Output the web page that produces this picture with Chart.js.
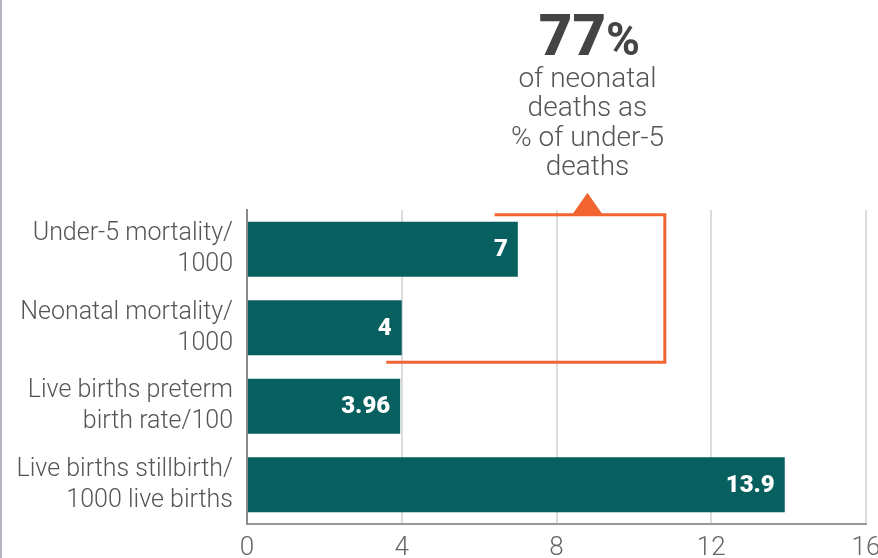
<!DOCTYPE html>
<html>
<head>
<meta charset="utf-8">
<script src="https://cdn.jsdelivr.net/npm/chart.js@4"></script>
<style>
  html, body { margin: 0; padding: 0; background: #fff; overflow: hidden; }
  canvas { display: block; }
</style>
</head>
<body>
<canvas id="mortalityChart" width="878" height="558"></canvas>
<script>
// data
const categories = [
  ["Under-5 mortality/", "1000"],
  ["Neonatal mortality/", "1000"],
  ["Live births preterm", "birth rate/100"],
  ["Live births stillbirth/", "1000 live births"],
]
const values = [7, 4, 3.96, 13.9]
const valueLabels = ["7", "4", "3.96", "13.9"]
const xTicks = [0, 4, 8, 12, 16]
const headline = "77"
const headlineNote = ["of neonatal", "deaths as", "% of under-5", "deaths"]

const teal = "#075f5f"
const orange = "#f26530"

// bar value labels, right end inside the bar
const barLabels = {
  id: "barLabels",
  afterDatasetsDraw(chart) {
    const ctx = chart.ctx
    const meta = chart.getDatasetMeta(0)
    ctx.save()
    ctx.fillStyle = "#fff"
    ctx.font = "900 24px Roboto"
    ctx.textAlign = "right"
    ctx.textBaseline = "middle"
    meta.data.forEach((bar, i) => {
      ctx.fillText(valueLabels[i], bar.x - 10, bar.y + 1)
    })
    ctx.restore()
  },
}

// 77% callout with the orange bracket joining the first two bars
const callout = {
  id: "callout",
  afterDraw(chart) {
    const ctx = chart.ctx
    const x = chart.scales.x
    const bars = chart.getDatasetMeta(0).data
    const cx = x.getPixelForValue(8.8)

    ctx.save()
    // left frame line
    ctx.strokeStyle = "#b4b4bc"
    ctx.lineWidth = 2
    ctx.beginPath()
    ctx.moveTo(1, 0)
    ctx.lineTo(1, chart.height)
    ctx.stroke()

    // headline number
    ctx.fillStyle = "#444"
    ctx.textBaseline = "alphabetic"
    ctx.font = "900 58px Roboto"
    const wNum = ctx.measureText(headline).width
    ctx.font = "700 46px Roboto"
    const wPct = ctx.measureText("%").width
    const start = cx + 2 - (wNum + wPct) / 2
    ctx.textAlign = "left"
    ctx.font = "900 58px Roboto"
    ctx.fillText(headline, start, 55)
    ctx.font = "700 46px Roboto"
    ctx.fillText("%", start + wNum, 55)

    // note lines
    ctx.fillStyle = "#555"
    ctx.font = "300 28px Roboto"
    ctx.textAlign = "center"
    headlineNote.forEach((line, i) => {
      ctx.fillText(line, cx, 87 + i * 29.3)
    })

    // bracket
    const topY = bars[0].y - bars[0].height / 2 - 7
    const botY = bars[1].y + bars[1].height / 2 + 7
    const rightX = x.getPixelForValue(10.8)
    ctx.strokeStyle = orange
    ctx.lineWidth = 3
    ctx.beginPath()
    ctx.moveTo(x.getPixelForValue(6.4), topY)
    ctx.lineTo(rightX, topY)
    ctx.lineTo(rightX, botY)
    ctx.lineTo(x.getPixelForValue(3.6), botY)
    ctx.stroke()

    // pointer triangle
    ctx.fillStyle = orange
    ctx.beginPath()
    ctx.moveTo(cx - 16, topY + 1)
    ctx.lineTo(cx, topY - 22)
    ctx.lineTo(cx + 16, topY + 1)
    ctx.closePath()
    ctx.fill()
    ctx.restore()
  },
}

document.addEventListener("DOMContentLoaded", () => {
  const chartCtx = document.getElementById("mortalityChart")
  new Chart(chartCtx, {
    type: "bar",
    data: {
      labels: categories,
      datasets: [
        {
          data: values,
          backgroundColor: teal,
          borderWidth: 0,
          categoryPercentage: 1,
          barPercentage: 0.7,
        },
      ],
    },
    options: {
      indexAxis: "y",
      responsive: false,
      animation: false,
      devicePixelRatio: 1,
      layout: {
        autoPadding: false,
        padding: { top: 210, right: 12, left: 0, bottom: 0 },
      },
      plugins: {
        legend: { display: false },
        tooltip: { enabled: false },
      },
      scales: {
        x: {
          min: xTicks[0],
          max: xTicks[xTicks.length - 1],
          afterBuildTicks: (scale) => {
            scale.ticks = xTicks.map((v) => ({ value: v }))
          },
          afterFit: (scale) => {
            scale.height = 34
            scale.paddingLeft = 0
            scale.paddingRight = 0
          },
          grid: {
            color: "#dcdcdc",
            lineWidth: 2,
            drawTicks: false,
          },
          border: { color: "#999", width: 2 },
          ticks: {
            padding: 9,
            color: "#666",
            font: { family: "Roboto", weight: "300", size: 26 },
          },
        },
        y: {
          afterFit: (scale) => {
            scale.width = 247
            scale.paddingTop = 0
            scale.paddingBottom = 0
          },
          grid: { display: false, drawTicks: false },
          border: { color: "#8c8c8c", width: 2 },
          ticks: {
            padding: 14,
            color: "#555",
            font: { family: "Roboto", weight: "300", size: 25, lineHeight: 1.24 },
          },
        },
      },
    },
    plugins: [barLabels, callout],
  })
})
</script>
</body>
</html>
